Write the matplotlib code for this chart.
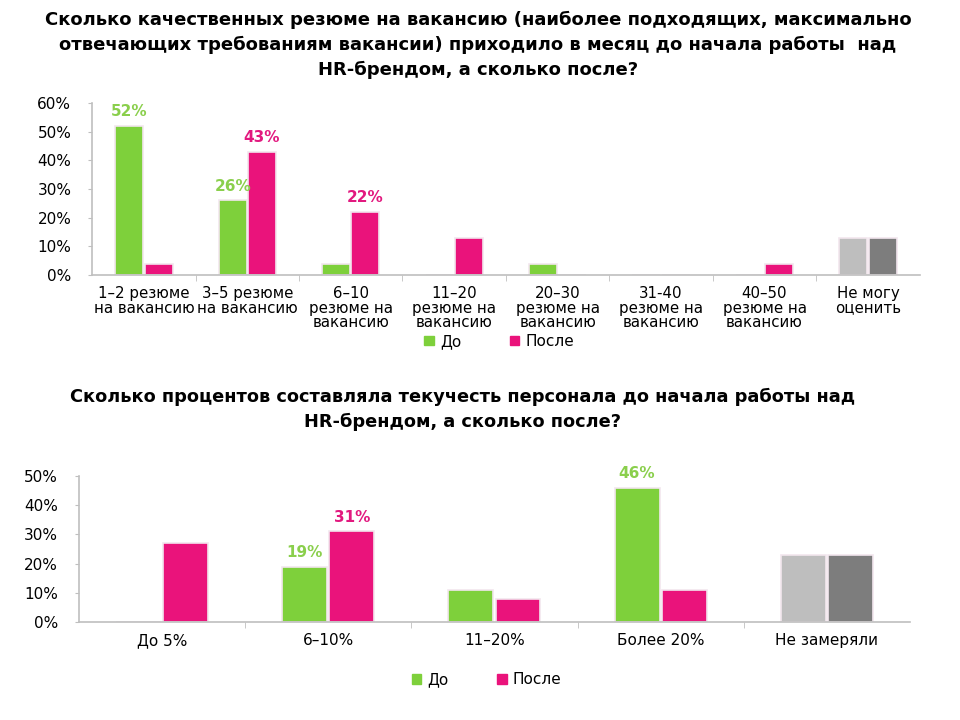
import matplotlib.pyplot as plt
import numpy as np
from matplotlib.patches import Patch

plt.rcParams['font.family'] = ['DejaVu Sans']

# data: top chart (quality CVs per vacancy)
top_cats = ["1–2 резюме\nна вакансию", "3–5 резюме\nна вакансию", "6–10\nрезюме на\nвакансию",
            "11–20\nрезюме на\nвакансию", "20–30\nрезюме на\nвакансию", "31-40\nрезюме на\nвакансию",
            "40–50\nрезюме на\nвакансию", "Не могу\nоценить"]
top_before = [52, 26, 4, 0, 4, 0, 0, 13]
top_after = [4, 43, 22, 13, 0, 0, 4, 13]
top_labels_before = ["52%", "26%", "", "", "", "", "", ""]
top_labels_after = ["", "43%", "22%", "", "", "", "", ""]

# data: bottom chart (staff turnover)
bot_cats = ["До 5%", "6–10%", "11–20%", "Более 20%", "Не замеряли"]
bot_before = [0, 19, 11, 46, 23]
bot_after = [27, 31, 8, 11, 23]
bot_labels_before = ["", "19%", "", "46%", ""]
bot_labels_after = ["", "31%", "", "", ""]

GREEN = "#7ED03B"
PINK = "#EA137B"
LGREY = "#BEBEBE"
DGREY = "#7D7D7D"
GREEN_TXT = "#8ACF4C"
PINK_TXT = "#E2197F"
AXC = "#BFBFBF"


def draw(ax, cats, before, after, lab_b, lab_a, ymax, xfs):
    n = len(cats)
    x = np.arange(n)
    w = 0.27
    off = 0.142
    cb = [GREEN] * (n - 1) + [LGREY]
    ca = [PINK] * (n - 1) + [DGREY]
    ax.bar(x - off, before, w, color=cb, edgecolor="#F2E6EE", linewidth=1.2, zorder=2)
    ax.bar(x + off, after, w, color=ca, edgecolor="#F2E6EE", linewidth=1.2, zorder=2)
    for i in range(n):
        if lab_b[i]:
            ax.annotate(lab_b[i], (x[i] - off, before[i]), xytext=(0, 5), textcoords="offset points",
                        ha="center", va="bottom", color=GREEN_TXT, fontsize=11, fontweight="bold")
        if lab_a[i]:
            ax.annotate(lab_a[i], (x[i] + off, after[i]), xytext=(0, 5), textcoords="offset points",
                        ha="center", va="bottom", color=PINK_TXT, fontsize=11, fontweight="bold")
    ax.set_xlim(-0.5, n - 0.5)
    ax.set_ylim(0, ymax)
    ax.set_yticks(np.arange(0, ymax + 1, 10))
    ax.set_yticklabels([f"{v}%" for v in range(0, ymax + 1, 10)], fontsize=11)
    ax.set_xticks(x)
    ax.set_xticklabels(cats, fontsize=xfs, linespacing=0.95)
    ax.set_xticks(np.arange(0.5, n - 0.5, 1), minor=True)
    ax.tick_params(axis="x", which="major", length=0, pad=8)
    ax.tick_params(axis="x", which="minor", length=4, color=AXC)
    ax.tick_params(axis="y", length=3, color=AXC, pad=12)
    for s in ["top", "right"]:
        ax.spines[s].set_visible(False)
    for s in ["left", "bottom"]:
        ax.spines[s].set_color(AXC)
        ax.spines[s].set_linewidth(1.2)


fig = plt.figure(figsize=(9.6, 7.2), dpi=100)

ax1 = fig.add_axes([0.096, 0.618, 0.862, 0.239])
draw(ax1, top_cats, top_before, top_after, top_labels_before, top_labels_after, 60, 10.8)
fig.text(0.498, 0.985, "Сколько качественных резюме на вакансию (наиболее подходящих, максимально\n"
         "отвечающих требованиям вакансии) приходило в месяц до начала работы  над\n"
         "HR-брендом, а сколько после?", ha="center", va="top", fontsize=13,
         fontweight="bold", linespacing=1.5)

ax2 = fig.add_axes([0.082, 0.136, 0.866, 0.203])
draw(ax2, bot_cats, bot_before, bot_after, bot_labels_before, bot_labels_after, 50, 11)
fig.text(0.482, 0.462, "Сколько процентов составляла текучесть персонала до начала работы над\n"
         "HR-брендом, а сколько после?", ha="center", va="top", fontsize=12.8,
         fontweight="bold", linespacing=1.5)

# legends
h = [Patch(color=GREEN), Patch(color=PINK)]
fig.legend(h, ["До", "После"], loc="center", bbox_to_anchor=(0.52, 0.526), ncol=2, frameon=False,
           fontsize=11, handlelength=0.6, handleheight=0.6, columnspacing=3.2, handletextpad=0.4)
fig.legend(h, ["До", "После"], loc="center", bbox_to_anchor=(0.507, 0.056), ncol=2, frameon=False,
           fontsize=11, handlelength=0.6, handleheight=0.6, columnspacing=3.2, handletextpad=0.4)

fig.savefig("out.png", dpi=100)
